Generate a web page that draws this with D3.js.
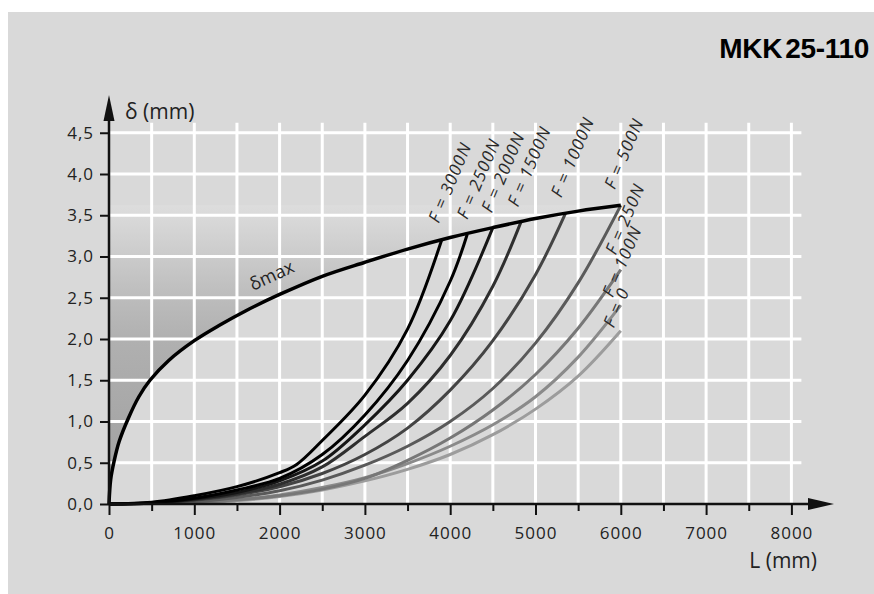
<!DOCTYPE html>
<html>
<head>
<meta charset="utf-8">
<script src="https://cdn.jsdelivr.net/npm/d3@7"></script>
<style>
body { margin: 0; background: #fff; }
text { font-family: "Open Sans", sans-serif; fill: #222; }
</style>
</head>
<body>
<svg width="874" height="594"></svg>
<script>
// tick values
var xTickValues = [0, 500, 1000, 1500, 2000, 2500, 3000, 3500, 4000, 4500, 5000, 5500, 6000, 6500, 7000, 7500, 8000];
var xLabelValues = [0, 1000, 2000, 3000, 4000, 5000, 6000, 7000, 8000];
var yTickValues = [0, 0.5, 1, 1.5, 2, 2.5, 3, 3.5, 4, 4.5];

// delta max curve [L (mm), delta (mm)]
var deltaMax = [[0, 0], [20, 0.3], [60, 0.52], [120, 0.76], [227, 1.04], [350, 1.3], [480, 1.5], [700, 1.74],
  [1000, 1.98], [1300, 2.17], [1600, 2.34], [2000, 2.54], [2500, 2.76], [3000, 2.93], [3500, 3.09],
  [4000, 3.23], [4500, 3.35], [5000, 3.46], [5500, 3.55], [6000, 3.62]];

// deflection curves for each load
var forceLabels = ["F = 3000N", "F = 2500N", "F = 2000N", "F = 1500N", "F = 1000N", "F = 500N", "F = 250N", "F = 100N", "F = 0"];
var f3000 = [[0, 0], [500, 0.02], [1000, 0.1], [1500, 0.21], [2000, 0.38], [2200, 0.48], [2500, 0.77], [3000, 1.32], [3500, 2.12], [3900, 3.2]];
var f2500 = [[0, 0], [500, 0.015], [1000, 0.07], [1500, 0.17], [2000, 0.31], [2500, 0.6], [3000, 1.08], [3500, 1.74], [4000, 2.7], [4200, 3.27]];
var f2000 = [[0, 0], [500, 0.01], [1000, 0.06], [1500, 0.14], [2000, 0.28], [2500, 0.52], [3000, 0.96], [3500, 1.5], [4000, 2.22], [4500, 3.35]];
var f1500 = [[0, 0], [500, 0.01], [1000, 0.05], [1500, 0.12], [2000, 0.24], [2500, 0.45], [3000, 0.82], [3500, 1.22], [4000, 1.8], [4500, 2.64], [4830, 3.42]];
var f1000 = [[0, 0], [500, 0.01], [1000, 0.045], [1500, 0.11], [2000, 0.21], [2500, 0.37], [3000, 0.6], [3500, 0.92], [4000, 1.38], [4500, 1.98], [5000, 2.78], [5350, 3.52]];
var f500 = [[0, 0], [1000, 0.03], [1500, 0.08], [2000, 0.16], [2500, 0.29], [3000, 0.47], [3500, 0.7], [4000, 1.0], [4500, 1.4], [5000, 1.95], [5500, 2.68], [6000, 3.62]];
var f250 = [[0, 0], [1000, 0.02], [1500, 0.05], [2000, 0.1], [2500, 0.18], [3000, 0.31], [3500, 0.53], [4000, 0.8], [4500, 1.14], [5000, 1.57], [5500, 2.13], [6000, 2.84]];
var f100 = [[0, 0], [1000, 0.02], [1500, 0.05], [2000, 0.11], [2500, 0.2], [3000, 0.32], [3500, 0.49], [4000, 0.7], [4500, 0.96], [5000, 1.3], [5500, 1.78], [6000, 2.41]];
var f0 = [[0, 0], [1000, 0.015], [1500, 0.04], [2000, 0.09], [2500, 0.17], [3000, 0.28], [3500, 0.42], [4000, 0.6], [4500, 0.84], [5000, 1.15], [5500, 1.55], [6000, 2.1]];
var forceCurves = [f3000, f2500, f2000, f1500, f1000, f500, f250, f100, f0];

var curveColors = ["#000", "#000", "#151515", "#2e2e2e", "#444", "#5a5a5a", "#777", "#8a8a8a", "#9c9c9c"];
// label start relative to curve end
var labelShift = [[-3, -16], [0, -14], [-1, -14], [-3, -14], [-4, -15], [-6, -15], [-5, -14], [-8, -7], [-7, -2]];

var svg = d3.select("svg");

var x = d3.scaleLinear().domain([0, 8000]).range([109, 791.4]);
var y = d3.scaleLinear().domain([0, 4.5]).range([504, 132.75]);

// panel background
svg.append("rect")
    .attr("x", 8).attr("y", 12)
    .attr("width", 866).attr("height", 582)
    .attr("fill", "#d9d9d9");

// title
var title = svg.append("text")
    .attr("x", 869).attr("y", 58)
    .attr("text-anchor", "end")
    .style("font-family", "'Liberation Sans', Arial, sans-serif")
    .style("font-weight", "bold")
    .style("font-size", "28px")
    .style("letter-spacing", "-0.3px")
    .style("fill", "#000");
title.append("tspan").text("MKK");
title.append("tspan").attr("dx", 3).text("25-110");

// shaded area above delta max
var defs = svg.append("defs");
var grad = defs.append("linearGradient")
    .attr("id", "shade")
    .attr("gradientUnits", "userSpaceOnUse")
    .attr("x1", 0).attr("x2", 0)
    .attr("y1", y(3.62)).attr("y2", y(0));
grad.append("stop").attr("offset", 0).attr("stop-color", "#dddddd");
grad.append("stop").attr("offset", 0.17).attr("stop-color", "#cbcbcb");
grad.append("stop").attr("offset", 0.31).attr("stop-color", "#bcbcbc");
grad.append("stop").attr("offset", 0.45).attr("stop-color", "#b0b0b0");
grad.append("stop").attr("offset", 0.72).attr("stop-color", "#a7a7a7");
grad.append("stop").attr("offset", 1).attr("stop-color", "#a0a0a0");

var area = d3.area()
    .x(function(d) { return x(d[0]); })
    .y0(y(3.62))
    .y1(function(d) { return y(d[1]); })
    .curve(d3.curveCatmullRom.alpha(0.5));

svg.append("path")
    .datum(deltaMax)
    .attr("d", area)
    .attr("fill", "url(#shade)");

// grid
var grid = svg.append("g").attr("stroke", "#fff").attr("stroke-width", 3);
grid.selectAll(".v").data(xTickValues.slice(1)).enter().append("line")
    .attr("x1", function(d) { return x(d); })
    .attr("x2", function(d) { return x(d); })
    .attr("y1", y(0)).attr("y2", y(4.5) - 10);
grid.selectAll(".h").data(yTickValues.slice(1)).enter().append("line")
    .attr("y1", function(d) { return y(d); })
    .attr("y2", function(d) { return y(d); })
    .attr("x1", x(0)).attr("x2", x(8000) + 10);

// curves
var line = d3.line()
    .x(function(d) { return x(d[0]); })
    .y(function(d) { return y(d[1]); })
    .curve(d3.curveCatmullRom.alpha(0.5));

svg.append("g").selectAll("path")
    .data(forceCurves.slice().reverse())
  .enter().append("path")
    .attr("d", line)
    .attr("fill", "none")
    .attr("stroke", function(d, i) { return curveColors[curveColors.length - 1 - i]; })
    .attr("stroke-width", 3);

svg.append("path")
    .datum(deltaMax)
    .attr("d", line)
    .attr("fill", "none")
    .attr("stroke", "#000")
    .attr("stroke-width", 3.5);

// axes
var fmtY = function(d) { return d3.format(".1f")(d).replace(".", ","); };

var yAxis = svg.append("g")
    .attr("transform", "translate(" + x(0) + ",0)")
    .call(d3.axisLeft(y).tickValues(yTickValues).tickSize(9).tickPadding(6).tickFormat(fmtY));
yAxis.select(".domain").remove();
yAxis.selectAll(".tick line").attr("stroke", "#111").attr("stroke-width", 2);
yAxis.selectAll(".tick text")
    .style("font-size", "17px")
    .style("letter-spacing", "1px")
    .style("font-family", "'Open Sans', sans-serif")
    .attr("fill", "#222");

var xAxis = svg.append("g")
    .attr("transform", "translate(0," + y(0) + ")")
    .call(d3.axisBottom(x).tickValues(xTickValues).tickSize(11).tickPadding(12)
      .tickFormat(function(d) { return xLabelValues.indexOf(d) >= 0 ? d3.format("d")(d) : ""; }));
xAxis.select(".domain").remove();
xAxis.selectAll(".tick line")
    .attr("stroke", "#111").attr("stroke-width", 2)
    .attr("y2", function(d) { return xLabelValues.indexOf(d) >= 0 ? 11 : 7; });
xAxis.selectAll(".tick text")
    .style("font-size", "17px")
    .style("letter-spacing", "1px")
    .style("font-family", "'Open Sans', sans-serif")
    .attr("fill", "#222");

// axis lines with arrows
svg.append("line")
    .attr("x1", x(0)).attr("x2", 815)
    .attr("y1", y(0)).attr("y2", y(0))
    .attr("stroke", "#111").attr("stroke-width", 2.5);
svg.append("path")
    .attr("d", "M808," + (y(0) - 6) + "L834," + y(0) + "L808," + (y(0) + 6) + "Z")
    .attr("fill", "#111");
svg.append("line")
    .attr("x1", x(0)).attr("x2", x(0))
    .attr("y1", y(0)).attr("y2", 115)
    .attr("stroke", "#111").attr("stroke-width", 2.5);
svg.append("path")
    .attr("d", "M" + (x(0) - 5.5) + ",121L" + x(0) + ",95L" + (x(0) + 5.5) + ",121Z")
    .attr("fill", "#111");

svg.append("text")
    .attr("x", 125).attr("y", 119)
    .style("font-size", "21px")
    .text("δ (mm)");
svg.append("text")
    .attr("x", 817).attr("y", 568)
    .attr("text-anchor", "end")
    .style("font-size", "21px")
    .text("L (mm)");

// labels
svg.append("text")
    .attr("transform", "translate(253,291) rotate(-25)")
    .style("font-size", "18px")
    .text("δmax");

svg.append("g").selectAll("text")
    .data(forceCurves)
  .enter().append("text")
    .attr("transform", function(d, i) {
      var end = d[d.length - 1];
      return "translate(" + (x(end[0]) + labelShift[i][0]) + "," + (y(end[1]) + labelShift[i][1]) + ") rotate(-67)";
    })
    .style("font-size", "17px")
    .style("font-style", "italic")
    .style("letter-spacing", "1px")
    .style("fill", "#2a2a2a")
    .text(function(d, i) { return forceLabels[i]; });
</script>
</body>
</html>
